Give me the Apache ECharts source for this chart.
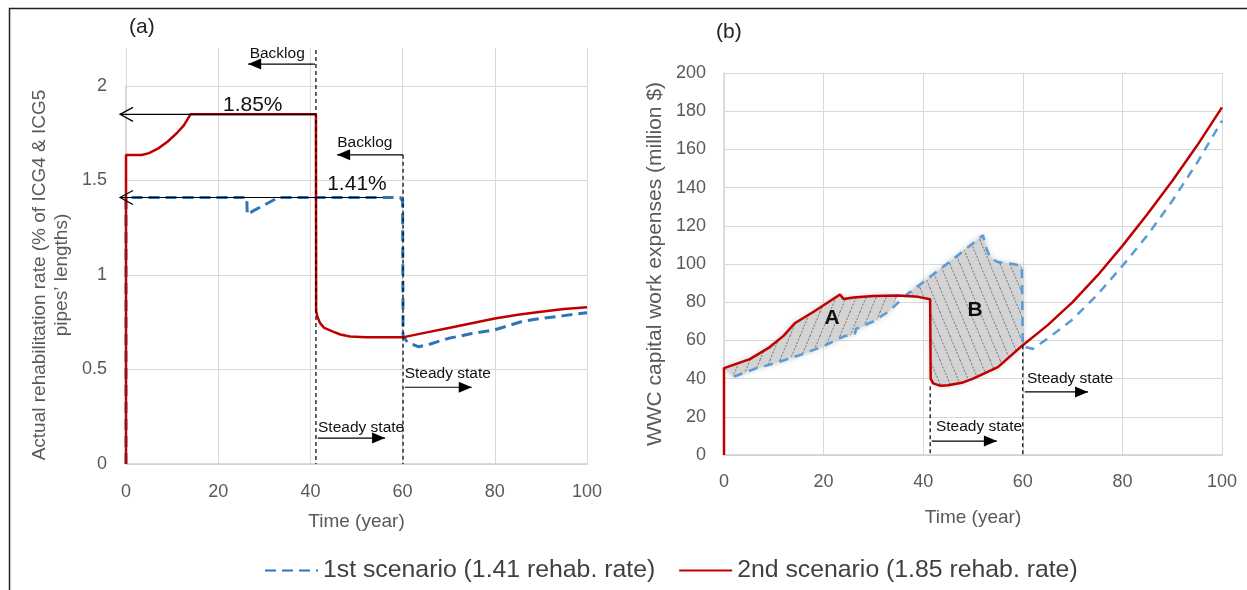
<!DOCTYPE html>
<html>
<head>
<meta charset="utf-8">
<script src="https://cdn.jsdelivr.net/npm/echarts@6/dist/echarts.min.js"></script>
<style>
html,body{margin:0;padding:0;background:#fff;}
#chart{width:1247px;height:590px;}
</style>
</head>
<body>
<div id="chart"></div>
<script>
// ---------- DATA ----------
// Panel (a): actual rehabilitation rate (% of ICG4 & ICG5 pipes' lengths)
const yearsA1 = [0, 0, 26.2, 26.3, 28, 30, 33, 59.5, 60, 60.1, 61, 63.5, 66, 70, 75, 80, 86, 90, 95, 100];
const rateA1  = [0, 1.41, 1.41, 1.32, 1.345, 1.37, 1.41, 1.41, 1.39, 0.68, 0.645, 0.62, 0.635, 0.665, 0.69, 0.71, 0.755, 0.77, 0.785, 0.80];
const yearsA2 = [0, 0, 3.4, 5, 7, 9, 11, 12.5, 14, 41.2, 41.25, 41.5, 42.1, 43, 44.9, 46.5, 48.6, 52, 60, 65, 70, 75, 80, 85, 90, 95, 100];
const rateA2  = [0, 1.635, 1.635, 1.645, 1.67, 1.705, 1.75, 1.79, 1.85, 1.85, 0.81, 0.78, 0.745, 0.72, 0.70, 0.685, 0.675, 0.67, 0.67, 0.695, 0.72, 0.745, 0.77, 0.79, 0.805, 0.82, 0.83];

// Panel (b): WWC capital work expenses (million $)
const yearsB1 = [2, 6, 11, 16, 20, 24, 26.3, 26.5, 30, 33, 36.7, 38.7, 40, 45, 52, 52.7, 53.5, 55, 58, 59.8, 60, 62, 65, 70, 75, 80, 85, 90, 95, 100];
const expB1   = [41, 45, 48.7, 53, 57, 62, 63.5, 66, 70, 75, 84, 88, 90.5, 100.5, 115, 108, 103, 101, 100, 99, 57, 55.5, 61, 71, 84, 99, 115, 133, 153, 175];
const yearsB2 = [0, 0, 5.2, 9.2, 12, 14.2, 18, 23.3, 24, 26, 30, 35, 39, 41.4, 41.5, 42, 43.5, 45, 48, 50, 55, 60, 65, 70, 75, 80, 85, 90, 95, 100];
const expB2   = [0, 45.5, 50.2, 56.5, 62.5, 69, 75, 84, 81.7, 82.5, 83.2, 83.5, 82.8, 81.5, 40, 37.5, 36.2, 36.5, 38, 40, 46, 57.5, 68, 80, 94, 109.5, 126, 143.5, 162, 182];

const seriesNames = ['1st scenario (1.41 rehab. rate)', '2nd scenario (1.85 rehab. rate)'];

// shaded regions (year ranges) in panel (b)
const regionA = [0, 36.5];
const regionB = [36.5, 60];

// annotations, in data coordinates
const annoA = {
  vlines: [[41.2, 2.19, 0], [60.1, 1.636, 0]],
  solidArrows: [[41.0, 2.116, 26.5, 2.116], [60.1, 1.636, 45.8, 1.636], [41.6, 0.137, 56.2, 0.137], [60.5, 0.406, 75, 0.406]],
  openArrows: [[41.2, 1.85, -1.3, 1.85], [55.7, 1.41, -1.3, 1.41]],
  texts: [['Backlog', 32.8, 2.17, 15.5, 'normal'], ['Backlog', 51.8, 1.70, 15.5, 'normal'],
          ['1.85%', 27.5, 1.90, 21, 'normal'], ['1.41%', 50.1, 1.48, 21, 'normal'],
          ['Steady state', 51.0, 0.19, 15.5, 'normal'], ['Steady state', 69.8, 0.48, 15.5, 'normal']]
};
const annoB = {
  vlines: [[41.4, 36, 0], [60, 57.5, 0]],
  solidArrows: [[41.7, 7.3, 54.8, 7.3], [60.4, 33, 73.1, 33]],
  openArrows: [],
  texts: [['Steady state', 51.2, 14.7, 15.5, 'normal'], ['Steady state', 69.5, 39.8, 15.5, 'normal'],
          ['A', 21.7, 71.7, 21, 'bold'], ['B', 50.4, 75.9, 21, 'bold']]
};

// ---------- HELPERS ----------
const zip = (xs, ys) => xs.map((x, i) => [x, ys[i]]);
const FONT = "'Liberation Sans', Arial, sans-serif";
const GRID = '#d9d9d9';
const LABEL = '#595959';

function hatch(dir) {
  const w = 10, h = 24;
  const c = document.createElement('canvas');
  c.width = w; c.height = h;
  const g = c.getContext('2d');
  g.fillStyle = '#d3d3d3';
  g.fillRect(0, 0, w, h);
  g.strokeStyle = 'rgba(60,60,60,0.8)';
  g.lineWidth = 0.8;
  g.setLineDash([2, 1.5]);
  [-w, 0, w].forEach(off => {
    g.beginPath();
    if (dir > 0) { g.moveTo(off, 0); g.lineTo(off + w, h); }
    else { g.moveTo(off, h); g.lineTo(off + w, 0); }
    g.stroke();
  });
  return c;
}
const hatchA = hatch(-1);
const hatchB = hatch(1);

function bandRender(upperX, upperY, lowerX, lowerY, range, pattern) {
  return function (params, api) {
    const pts = [];
    upperX.forEach((x, i) => { if (x >= range[0] && x <= range[1] && upperY[i] > 0) pts.push(api.coord([x, upperY[i]])); });
    const low = [];
    lowerX.forEach((x, i) => { if (x >= range[0] && x <= range[1] && lowerY[i] > 0) low.push(api.coord([x, lowerY[i]])); });
    low.reverse().forEach(p => pts.push(p));
    return {
      type: 'polygon',
      shape: { points: pts },
      style: { fill: { image: pattern, repeat: 'repeat' }, stroke: 'none', shadowBlur: 6, shadowColor: 'rgba(150,150,150,0.6)' }
    };
  };
}

function arrowHead(tip, from, len, half, open) {
  const dx = tip[0] - from[0], dy = tip[1] - from[1];
  const L = Math.sqrt(dx * dx + dy * dy) || 1;
  const ux = dx / L, uy = dy / L, px = -uy, py = ux;
  const bx = tip[0] - ux * len, by = tip[1] - uy * len;
  const a = [bx + px * half, by + py * half], b = [bx - px * half, by - py * half];
  if (open) {
    return { type: 'polyline', shape: { points: [a, tip, b] }, style: { stroke: '#000', lineWidth: 1.2, fill: 'none' } };
  }
  return { type: 'polygon', shape: { points: [a, tip, b] }, style: { fill: '#000', stroke: 'none' } };
}

function annoRender(anno) {
  return function (params, api) {
    const ch = [];
    anno.vlines.forEach(([x, y1, y2]) => {
      const p1 = api.coord([x, y1]), p2 = api.coord([x, y2]);
      ch.push({ type: 'line', shape: { x1: p1[0], y1: p1[1], x2: p2[0], y2: p2[1] }, style: { stroke: '#000', lineWidth: 1.2, lineDash: [4, 3] } });
    });
    anno.solidArrows.forEach(([x1, y1, x2, y2]) => {
      const p1 = api.coord([x1, y1]), p2 = api.coord([x2, y2]);
      ch.push({ type: 'line', shape: { x1: p1[0], y1: p1[1], x2: p2[0], y2: p2[1] }, style: { stroke: '#000', lineWidth: 1.2 } });
      ch.push(arrowHead(p2, p1, 13, 5.5, false));
    });
    anno.openArrows.forEach(([x1, y1, x2, y2]) => {
      const p1 = api.coord([x1, y1]), p2 = api.coord([x2, y2]);
      ch.push({ type: 'line', shape: { x1: p1[0], y1: p1[1], x2: p2[0], y2: p2[1] }, style: { stroke: '#000', lineWidth: 1.2 } });
      ch.push(arrowHead(p2, p1, 13, 7, true));
    });
    anno.texts.forEach(([t, x, y, fs, fw]) => {
      const p = api.coord([x, y]);
      ch.push({ type: 'text', x: p[0], y: p[1], style: { text: t, fill: '#111', font: fw + ' ' + fs + 'px ' + FONT, align: 'center', verticalAlign: 'middle' } });
    });
    return { type: 'group', children: ch };
  };
}

// ---------- CHART ----------
const chart = echarts.init(document.getElementById('chart'), null, { renderer: 'canvas' });

const tickLabel = { fontSize: 18, color: LABEL, fontFamily: FONT };
const option = {
  animation: false,
  backgroundColor: '#fff',
  title: [
    { text: '(a)', left: 124, top: 12, textStyle: { fontSize: 21, fontWeight: 'normal', color: '#222', fontFamily: FONT } },
    { text: '(b)', left: 711, top: 17, textStyle: { fontSize: 21, fontWeight: 'normal', color: '#222', fontFamily: FONT } }
  ],
  graphic: [
    { type: 'rect', left: 7, top: 6, shape: { width: 1400, height: 700 }, style: { fill: 'none', stroke: '#222', lineWidth: 1.5 }, silent: true }
  ],
  legend: {
    data: seriesNames,
    left: 259, top: 553,
    itemWidth: 53, itemHeight: 14, itemGap: 23,
    itemStyle: { opacity: 0 },
    textStyle: { fontSize: 24.8, color: '#404040', fontFamily: FONT }
  },
  grid: [
    { left: 126, right: 660, top: 48, bottom: 126, outerBoundsMode: 'none' },
    { left: 126, right: 660, top: 86, bottom: 126, outerBoundsMode: 'none' },
    { left: 724, right: 25, top: 73, bottom: 135, outerBoundsMode: 'none' }
  ],
  xAxis: [
    { gridIndex: 0, type: 'value', min: 0, max: 100, interval: 20, axisLine: { show: false }, axisTick: { show: false }, axisLabel: { show: false },
      splitLine: { show: true, lineStyle: { color: GRID, width: 1 } } },
    { gridIndex: 1, type: 'value', min: 0, max: 100, interval: 20,
      axisLine: { show: true, lineStyle: { color: '#d0d0d0', width: 1.5 } }, axisTick: { show: false },
      axisLabel: Object.assign({ margin: 19 }, tickLabel), splitLine: { show: false },
      name: 'Time (year)', nameLocation: 'middle', nameGap: 48,
      nameTextStyle: { fontSize: 19, color: LABEL, fontFamily: FONT } },
    { gridIndex: 2, type: 'value', min: 0, max: 100, interval: 20,
      axisLine: { show: true, lineStyle: { color: '#d0d0d0', width: 1.5 } }, axisTick: { show: false },
      axisLabel: Object.assign({ margin: 18 }, tickLabel),
      splitLine: { show: true, lineStyle: { color: GRID, width: 1 } },
      name: 'Time (year)', nameLocation: 'middle', nameGap: 53,
      nameTextStyle: { fontSize: 19, color: LABEL, fontFamily: FONT } }
  ],
  yAxis: [
    { gridIndex: 0, type: 'value', min: 0, max: 1, show: false },
    { gridIndex: 1, type: 'value', min: 0, max: 2, interval: 0.5, offset: 9,
      axisLine: { show: true, lineStyle: { color: GRID, width: 2 } }, axisTick: { show: false },
      axisLabel: Object.assign({ margin: 10 }, tickLabel),
      splitLine: { show: true, lineStyle: { color: GRID, width: 1 } },
      name: 'Actual rehabilitation rate (% of ICG4 & ICG5\npipes\u2019 lengths)', nameLocation: 'middle', nameGap: 44, nameRotate: 90,
      nameTextStyle: { fontSize: 19, lineHeight: 22, color: LABEL, fontFamily: FONT, align: 'center' } },
    { gridIndex: 2, type: 'value', min: 0, max: 200, interval: 20,
      axisLine: { show: true, lineStyle: { color: GRID, width: 1.5 } }, axisTick: { show: false },
      axisLabel: Object.assign({ margin: 18 }, tickLabel),
      splitLine: { show: true, lineStyle: { color: GRID, width: 1 } },
      name: 'WWC capital work expenses (million $)', nameLocation: 'middle', nameGap: 58, nameRotate: 90,
      nameTextStyle: { fontSize: 21, color: LABEL, fontFamily: FONT } }
  ],
  series: [
    { type: 'custom', name: 'bandA', xAxisIndex: 2, yAxisIndex: 2, data: [0], z: 1, silent: true, clip: false,
      renderItem: bandRender(yearsB2, expB2, yearsB1, expB1, regionA, hatchA) },
    { type: 'custom', name: 'bandB', xAxisIndex: 2, yAxisIndex: 2, data: [0], z: 1, silent: true, clip: false,
      renderItem: bandRender(yearsB1, expB1, yearsB2, expB2, regionB, hatchB) },
    { type: 'line', name: seriesNames[0], xAxisIndex: 1, yAxisIndex: 1, data: zip(yearsA1, rateA1), symbol: 'none', z: 3,
      itemStyle: { color: '#2E75B6' }, lineStyle: { color: '#2E75B6', width: 3, type: [11, 6] } },
    { type: 'line', name: seriesNames[1], xAxisIndex: 1, yAxisIndex: 1, data: zip(yearsA2, rateA2), symbol: 'none', z: 4,
      itemStyle: { color: '#C00000' }, lineStyle: { color: '#C00000', width: 2.5 } },
    { type: 'line', name: seriesNames[0], xAxisIndex: 2, yAxisIndex: 2, data: zip(yearsB1, expB1), symbol: 'none', z: 3,
      itemStyle: { color: '#5B9BD5' }, lineStyle: { color: '#5B9BD5', width: 2.5, type: [9, 7] } },
    { type: 'line', name: seriesNames[1], xAxisIndex: 2, yAxisIndex: 2, data: zip(yearsB2, expB2), symbol: 'none', z: 4,
      itemStyle: { color: '#C00000' }, lineStyle: { color: '#C00000', width: 2.5 } },
    { type: 'custom', name: 'annoA', xAxisIndex: 1, yAxisIndex: 1, data: [0], z: 6, silent: true, clip: false,
      renderItem: annoRender(annoA) },
    { type: 'custom', name: 'annoB', xAxisIndex: 2, yAxisIndex: 2, data: [0], z: 6, silent: true, clip: false,
      renderItem: annoRender(annoB) }
  ]
};
chart.setOption(option);
</script>
</body>
</html>
